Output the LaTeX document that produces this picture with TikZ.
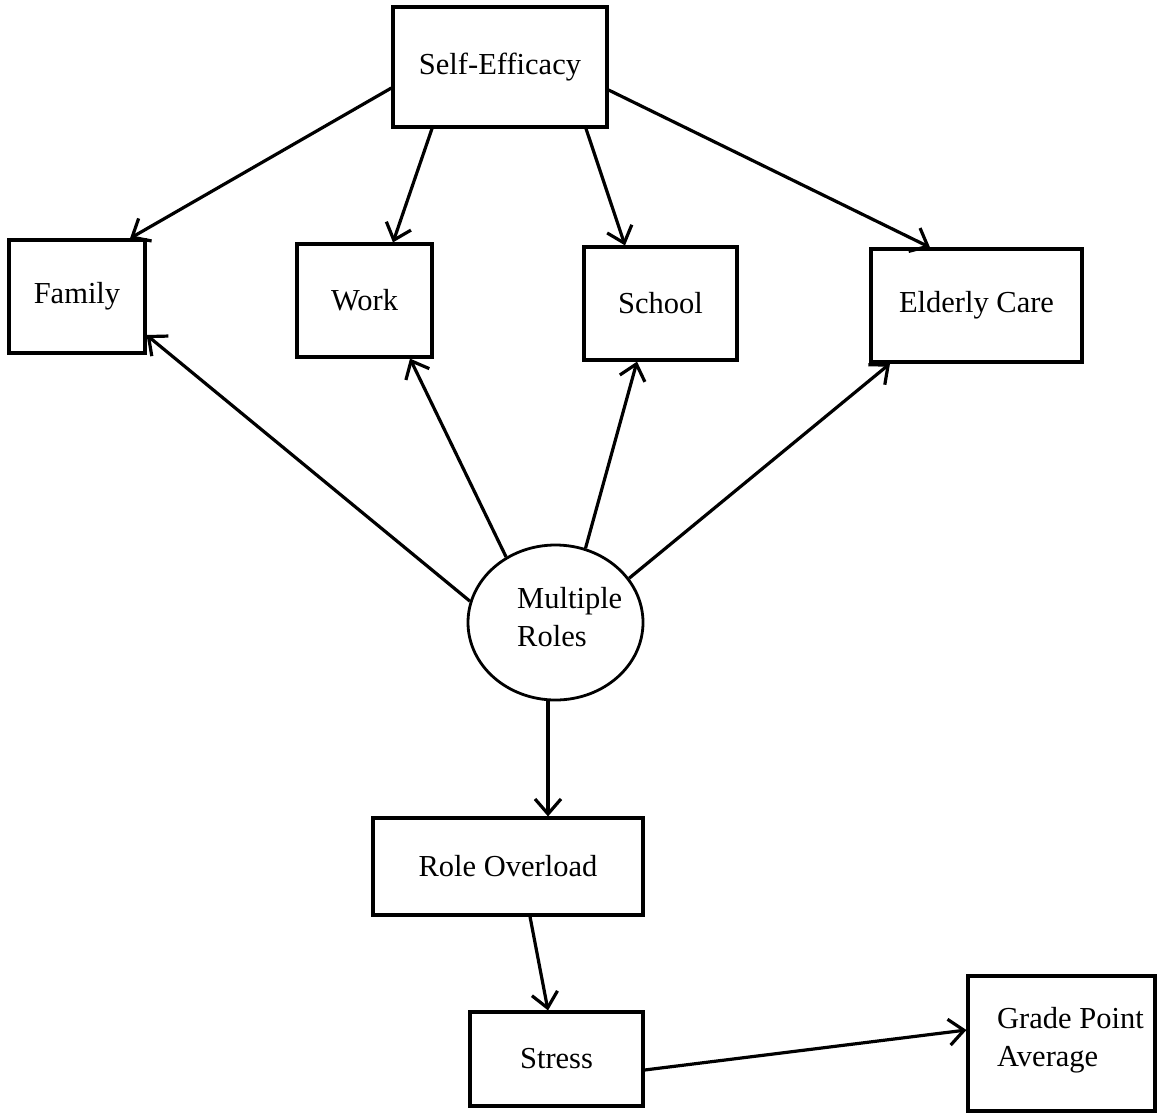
\documentclass[tikz,border=0pt]{standalone}
\usepackage{fontspec}
\setmainfont{Liberation Serif}
\usetikzlibrary{arrows.meta,shapes.geometric}
\begin{document}
\begin{tikzpicture}[x=1pt,y=-1pt,
  box/.style={draw,line width=3.2pt,inner sep=0pt,font=\fontsize{30.5}{38}\selectfont},
  lbl/.style={inner sep=0pt,font=\fontsize{30.5}{38}\selectfont,align=left},
  link/.style={line width=3.2pt,-{Straight Barb[length=15pt,width=26pt,line width=3.2pt]}}]
\useasboundingbox (0,0) rectangle (1161,1113);
\fill[white] (0,0) rectangle (1161,1113);

% boxes
\node[box,minimum width=214pt,minimum height=120pt] (se) at (500,67) {Self-Efficacy};
\node[box,minimum width=136pt,minimum height=113pt] (fam) at (77,296.5) {Family};
\node[box,minimum width=135pt,minimum height=113pt] (work) at (364.5,300.5) {Work};
\node[box,minimum width=153pt,minimum height=113pt] (sch) at (660.5,303.5) {School};
\node[box,minimum width=211pt,minimum height=113pt] (eld) at (976.5,305.5) {Elderly Care};
\node[box,minimum width=270pt,minimum height=97pt] (ro) at (508,866.5) {Role Overload};
\node[box,minimum width=173pt,minimum height=94pt] (st) at (556.5,1059) {Stress};
\node[box,minimum width=187pt,minimum height=135pt] (gpa) at (1061.5,1043.5) {};
\node[lbl,anchor=west] (gpatext) at (997,1040) {Grade Point\\Average};

% central role node
\node[draw,ellipse,line width=2.8pt,inner sep=0pt,minimum width=175pt,minimum height=155pt] (mr) at (555.5,622.5) {};
\node[lbl,anchor=west] (mrtext) at (517,617) {Multiple\\Roles};

% links from self-efficacy
\draw[link] ([yshift=-21pt]se.west) -- ([xshift=53pt]fam.north);
\draw[link] ([xshift=-68pt]se.south) -- ([xshift=28.5pt]work.north);
\draw[link] ([xshift=86pt]se.south) -- ([xshift=-35.5pt]sch.north);
\draw[link] ([yshift=-23pt]se.east) -- ([xshift=-46.5pt]eld.north);

% links from multiple roles
\draw[link] (mr.166.5) -- ([yshift=-38.5pt]fam.east);
\draw[link] (mr.127) -- ([xshift=45.5pt]work.south);
\draw[link] (mr.68) -- ([xshift=-23.5pt]sch.south);
\draw[link] (mr.31.5) -- ([xshift=-86.5pt]eld.south);
\draw[link] ([xshift=-7.5pt]mr.south) -- ([xshift=40pt]ro.north);

% outcome chain
\draw[link] ([xshift=22pt]ro.south) -- ([xshift=-8.5pt]st.north);
\draw[link] ([yshift=-11pt]st.east) -- ([yshift=13.5pt]gpa.west);
\end{tikzpicture}
\end{document}
